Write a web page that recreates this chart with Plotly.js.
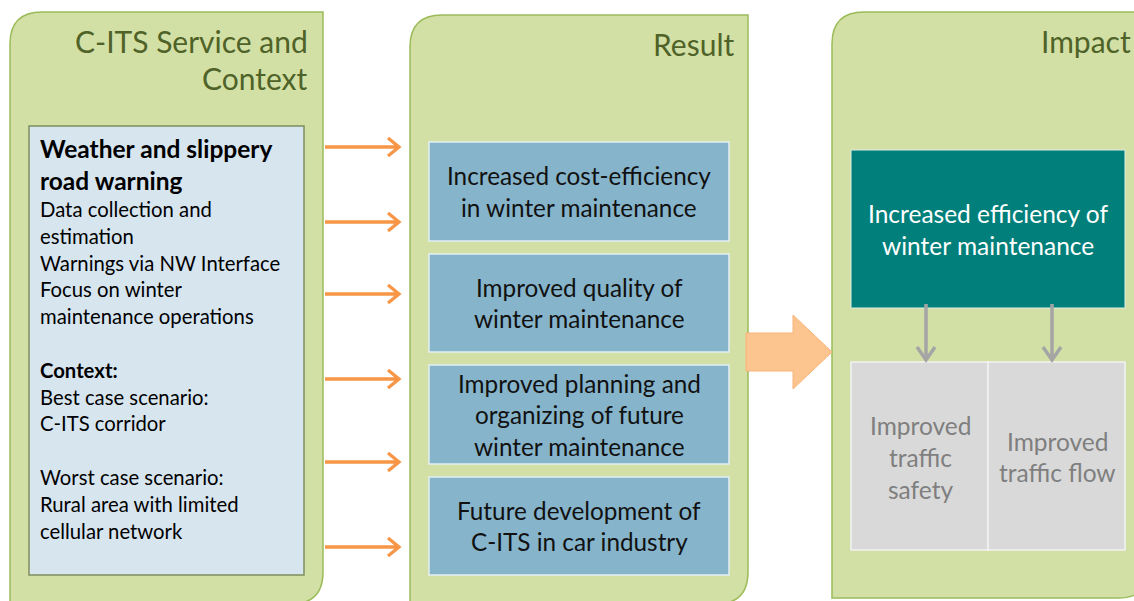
<!DOCTYPE html>
<html>
<head>
<meta charset="utf-8">
<script src="https://cdn.plot.ly/plotly-3.0.1.min.js"></script>
<style>html,body{margin:0;padding:0;background:#fff;}#chart{width:1134px;height:601px;}</style>
</head>
<body>
<div id="chart"></div>
<script>
// ---- content ----
const panelTitles = [["C-ITS Service and", "Context"], ["Result"], ["Impact"]];
const serviceHeading = ["Weather and slippery", "road warning"];
const serviceLines = ["Data collection and", "estimation", "Warnings via NW Interface", "Focus on winter",
  "maintenance operations", "", "<b>Context:</b>", "Best case scenario:", "C-ITS corridor", "",
  "Worst case scenario:", "Rural area with limited", "cellular network"];
const resultLabels = [
  ["Increased cost-efficiency", "in winter maintenance"],
  ["Improved quality of", "winter maintenance"],
  ["Improved planning and", "organizing of future", "winter maintenance"],
  ["Future development of", "C-ITS in car industry"]
];
const impactMain = ["Increased efficiency of", "winter maintenance"];
const impactSub = [["Improved", "traffic", "safety"], ["Improved", "traffic flow"]];
const connectorY = [147, 222, 294, 379, 462, 547];

// ---- styles ----
const FONT = "Lato, 'DejaVu Sans', sans-serif";
const panelFill = "#D3E0A5", panelLine = "#9BBB59";
const shapes = [], annotations = [];

function roundedPanel(x0, y0, x1, y1, r) {
  shapes.push({type: "path", xref: "x", yref: "y",
    path: `M${x0},${y0 + r} Q${x0},${y0} ${x0 + r},${y0} L${x1},${y0} L${x1},${y1 - r} Q${x1},${y1} ${x1 - r},${y1} L${x0},${y1} Z`,
    fillcolor: panelFill, line: {color: panelLine, width: 1.5}, layer: "below"});
}
function rect(x0, y0, x1, y1, fill, lineColor, lw) {
  shapes.push({type: "rect", xref: "x", yref: "y", x0, y0, x1, y1, fillcolor: fill,
    line: {color: lineColor, width: lw}, layer: "below"});
}
function lines(arr, x, yStart, step, size, color, xanchor, bold) {
  arr.forEach((t, i) => {
    if (!t) return;
    annotations.push({xref: "x", yref: "y", x, y: yStart + i * step, text: bold ? `<b>${t}</b>` : t,
      showarrow: false, xanchor, yanchor: "middle", align: xanchor === "center" ? "center" : xanchor,
      font: {family: FONT, size, color}});
  });
}
function centered(arr, cx, cy, step, size, color) {
  const y0 = cy - (arr.length - 1) * step / 2;
  lines(arr, cx, y0, step, size, color, "center", false);
}

// panels
roundedPanel(10, 12, 323, 604, 32);
roundedPanel(410, 15, 748, 604, 32);
roundedPanel(832, 12, 1150, 598, 32);

// panel titles
lines(panelTitles[0], 310, 41, 37, 30, "#4F6228", "right");
lines(panelTitles[1], 736, 44, 37, 30, "#4F6228", "right");
lines(panelTitles[2], 1133, 41, 37, 30, "#4F6228", "right");

// service box
rect(29, 126, 304, 575, "#D7E5EF", "#7F8F5F", 1.5);
lines(serviceHeading, 38, 148, 32, 24.5, "#000000", "left", true);
lines(serviceLines, 38, 209, 26.8, 20.3, "#000000", "left", false);

// result boxes
const resultBoxes = [[142, 241], [254, 352], [365, 464], [477, 575]];
resultBoxes.forEach((b, i) => {
  rect(429, b[0], 729, b[1], "#86B4CB", "#E4EEF3", 1.5);
  centered(resultLabels[i], 579, (b[0] + b[1]) / 2, 31.5, 24.3, "#111111");
});

// impact boxes
rect(851, 150, 1125, 308, "#007F7B", "#E0EEE8", 1);
centered(impactMain, 988, 229, 32, 24.5, "#FFFFFF");
rect(851, 362, 988, 550, "#D9D9D9", "#F2F2F2", 1.5);
rect(988, 362, 1125, 550, "#D9D9D9", "#F2F2F2", 1.5);
centered(impactSub[0], 920, 457, 32, 24.5, "#7F7F7F");
centered(impactSub[1], 1057, 456.5, 31, 24.5, "#7F7F7F");

// grey down arrows
[926, 1052].forEach(x => {
  shapes.push({type: "path", xref: "x", yref: "y",
    path: `M${x},304 L${x},359 M${x - 9},347 L${x},360 L${x + 9},347`,
    line: {color: "#A5A5A5", width: 3.5}});
});

// orange connector arrows
connectorY.forEach(y => {
  shapes.push({type: "path", xref: "x", yref: "y",
    path: `M325,${y} L398,${y} M388,${y - 9} L399,${y} L388,${y + 9}`,
    line: {color: "#F79646", width: 3.3}});
});

// big block arrow
shapes.push({type: "path", xref: "x", yref: "y",
  path: "M746,333 L793,333 L793,315 L832,352 L793,389 L793,371 L746,371 Z",
  fillcolor: "#FCC48F", line: {color: "#F9B47A", width: 1}});

const layout = {
  width: 1134, height: 601,
  margin: {l: 0, r: 0, t: 0, b: 0},
  paper_bgcolor: "#FFFFFF", plot_bgcolor: "#FFFFFF",
  xaxis: {range: [0, 1134], visible: false, fixedrange: true},
  yaxis: {range: [601, 0], visible: false, fixedrange: true},
  showlegend: false,
  shapes, annotations
};
Plotly.newPlot("chart", [], layout, {displayModeBar: false, staticPlot: true});
</script>
</body>
</html>
